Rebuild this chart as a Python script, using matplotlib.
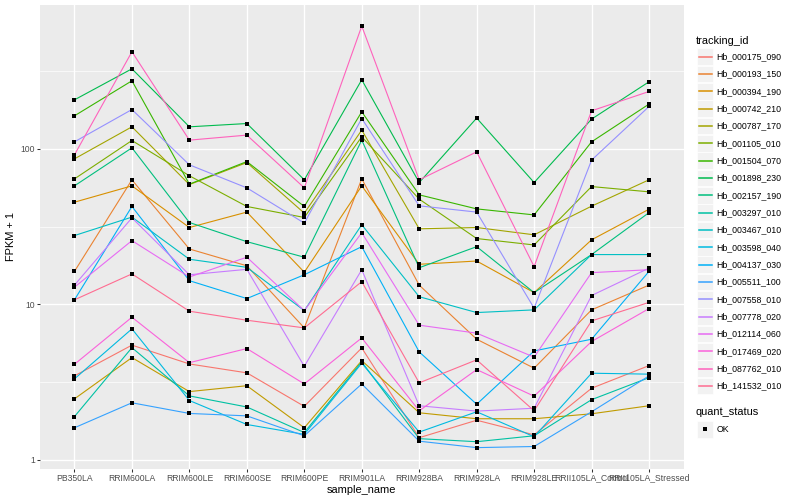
import matplotlib
matplotlib.use("Agg")
import matplotlib.pyplot as plt
import numpy as np
from matplotlib.patches import Rectangle
from matplotlib.lines import Line2D
from matplotlib.ticker import FixedLocator, NullFormatter

plt.rcParams['font.family'] = ['Liberation Sans', 'DejaVu Sans']

samples = ["PB350LA", "RRIM600LA", "RRIM600LE", "RRIM600SE", "RRIM600PE", "RRIM901LA",
           "RRIM928BA", "RRIM928LA", "RRIM928LE", "RRII105LA_Control", "RRII105LA_Stressed"]

tracking_ids = ["Hb_000175_090", "Hb_000193_150", "Hb_000394_190", "Hb_000742_210",
                "Hb_000787_170", "Hb_001105_010", "Hb_001504_070", "Hb_001898_230",
                "Hb_002157_190", "Hb_003297_010", "Hb_003467_010", "Hb_003598_040",
                "Hb_004137_030", "Hb_005511_100", "Hb_007558_010", "Hb_007778_020",
                "Hb_012114_060", "Hb_017469_020", "Hb_087762_010", "Hb_141532_010"]

# FPKM + 1, one value per sample (same order as samples)
hb_000175_090 = [3.47, 5.47, 4.14, 3.63, 2.21, 5.25, 1.39, 1.80, 1.45, 2.89, 4.04]
hb_000193_150 = [16.3, 63.2, 22.7, 17.7, 7.06, 64.1, 13.3, 5.97, 3.89, 9.22, 13.3]
hb_000394_190 = [45.4, 57.8, 31.2, 39.2, 16.1, 57.8, 18.1, 19.0, 11.9, 26.0, 40.9]
hb_000742_210 = [2.47, 4.55, 2.75, 3.00, 1.61, 4.35, 2.01, 1.84, 1.84, 1.98, 2.23]
hb_000787_170 = [86.2, 138.5, 58.9, 81.6, 38.6, 131.9, 30.6, 31.2, 28.0, 42.8, 63.2]
hb_001105_010 = [64.1, 113.1, 67.1, 42.6, 36.2, 119.5, 47.5, 26.5, 24.1, 57.2, 52.9]
hb_001504_070 = [163.0, 273.7, 59.3, 82.8, 42.6, 173.0, 50.6, 41.1, 37.6, 110.9, 193.9]
hb_001898_230 = [206.5, 326.8, 138.5, 145.4, 63.2, 277.8, 60.7, 157.6, 60.7, 155.2, 269.7]
hb_002157_190 = [57.8, 101.5, 33.6, 25.3, 20.1, 113.7, 17.2, 23.5, 11.9, 20.9, 38.9]
hb_003297_010 = [1.90, 5.27, 2.58, 2.19, 1.50, 4.27, 1.37, 1.31, 1.43, 2.44, 3.38]
hb_003467_010 = [27.7, 36.4, 19.5, 17.3, 9.12, 32.5, 11.2, 8.86, 9.22, 20.9, 20.9]
hb_003598_040 = [3.32, 6.96, 2.41, 1.69, 1.46, 4.19, 1.51, 2.04, 1.41, 3.61, 3.56]
hb_004137_030 = [10.7, 42.6, 14.2, 10.9, 15.5, 23.5, 4.95, 2.28, 5.02, 5.97, 16.3]
hb_005511_100 = [1.61, 2.33, 1.99, 1.92, 1.43, 3.08, 1.32, 1.20, 1.22, 2.04, 3.47]
hb_007558_010 = [110.9, 178.9, 78.9, 56.1, 33.3, 156.6, 43.0, 39.2, 9.45, 84.6, 187.1]
hb_007778_020 = [13.3, 36.0, 15.5, 16.8, 4.00, 16.7, 2.23, 2.06, 2.15, 11.4, 17.1]
hb_012114_060 = [12.9, 25.7, 15.0, 20.1, 9.12, 28.9, 7.35, 6.53, 4.58, 16.0, 16.7]
hb_017469_020 = [4.12, 8.27, 4.22, 5.20, 3.08, 6.09, 2.07, 3.81, 2.57, 5.77, 9.40]
hb_087762_010 = [91.5, 420.6, 113.7, 122.5, 56.1, 615.2, 63.2, 95.6, 17.5, 175.5, 233.6]
hb_141532_010 = [10.7, 15.7, 9.04, 7.91, 7.06, 14.0, 3.13, 4.40, 2.07, 7.83, 10.3]

series = [hb_000175_090, hb_000193_150, hb_000394_190, hb_000742_210, hb_000787_170,
          hb_001105_010, hb_001504_070, hb_001898_230, hb_002157_190, hb_003297_010,
          hb_003467_010, hb_003598_040, hb_004137_030, hb_005511_100, hb_007558_010,
          hb_007778_020, hb_012114_060, hb_017469_020, hb_087762_010, hb_141532_010]

# ggplot2 default hue palette for 20 levels
colors = ["#F8766D", "#EA8331", "#D89000", "#C09B00", "#A3A500", "#7CAE00", "#39B600",
          "#00BB4E", "#00BF7D", "#00C1A3", "#00BFC4", "#00BAE0", "#00B0F6", "#35A2FF",
          "#9590FF", "#C77CFF", "#E76BF3", "#FA62DB", "#FF62BC", "#FF6C91"]

W, H = 800, 500
fig = plt.figure(figsize=(8, 5), dpi=100)
ax = fig.add_axes([40 / W, 1 - 468.7 / H, (683.5 - 40) / W, (468.7 - 5) / H])
ax.set_facecolor("#EBEBEB")
for sp in ax.spines.values():
    sp.set_visible(False)

x = np.arange(len(samples))
for i, vals in enumerate(series):
    ax.plot(x, vals, color=colors[i], lw=0.8, zorder=2 + i * 0.01)
for vals in series:
    ax.plot(x, vals, "s", color="black", ms=2.5, mew=0, zorder=3)

ax.set_yscale("log")
allv = np.log10(np.concatenate([np.array(s) for s in series]))
lo, hi = allv.min(), allv.max()
pad = 0.05 * (hi - lo)
ax.set_ylim(10 ** (lo - pad), 10 ** (hi + pad))
ax.set_xlim(-0.6, len(samples) - 0.4)

ax.set_yticks([1, 10, 100])
ax.set_yticklabels(["1", "10", "100"])
ax.yaxis.set_minor_locator(FixedLocator([10 ** 0.5, 10 ** 1.5, 10 ** 2.5]))
ax.yaxis.set_minor_formatter(NullFormatter())
ax.set_xticks(x)
ax.set_xticklabels(samples)

ax.tick_params(which="major", length=2.0, width=0.75, color="#333333",
               labelsize=6.2, labelcolor="#4D4D4D", pad=1.6)
ax.tick_params(which="minor", length=0)
ax.grid(which="major", color="white", lw=1.0)
ax.grid(which="minor", axis="y", color="white", lw=0.5)
ax.set_axisbelow(True)

ax.set_xlabel("sample_name", fontsize=7.9, labelpad=1.5)
ax.set_ylabel("FPKM + 1", fontsize=7.9, labelpad=3)

# legend drawn by hand, ggplot style
def fx(px):
    return px / W

def fy(py):
    return 1 - py / H

fig.text(fx(696), fy(40.7), "tracking_id", fontsize=7.9, va="center", ha="left")
for i, tid in enumerate(tracking_ids):
    yc = 56.7 + i * 17.33
    fig.patches.append(Rectangle((fx(697), fy(yc + 8.3)), 16 / W, 16.6 / H,
                                 transform=fig.transFigure, facecolor="#F2F2F2",
                                 edgecolor="white", lw=0.5, zorder=1))
    fig.lines.append(Line2D([fx(698.5), fx(711.5)], [fy(yc), fy(yc)],
                            transform=fig.transFigure, color=colors[i], lw=1.1,
                            zorder=5))
    fig.text(fx(716.7), fy(yc), tid, fontsize=6.3, va="center", ha="left")

fig.text(fx(696), fy(412.3), "quant_status", fontsize=7.9, va="center", ha="left")
fig.patches.append(Rectangle((fx(697), fy(429.3 + 8.3)), 16 / W, 16.6 / H,
                             transform=fig.transFigure, facecolor="#F2F2F2",
                             edgecolor="white", lw=0.5, zorder=1))
fig.lines.append(Line2D([fx(705)], [fy(429.3)], transform=fig.transFigure,
                        marker="s", color="black", ms=2.5, mew=0, ls="none", zorder=5))
fig.text(fx(716.7), fy(429.3), "OK", fontsize=6.3, va="center", ha="left")

fig.savefig("out.png", dpi=100, facecolor="white")
